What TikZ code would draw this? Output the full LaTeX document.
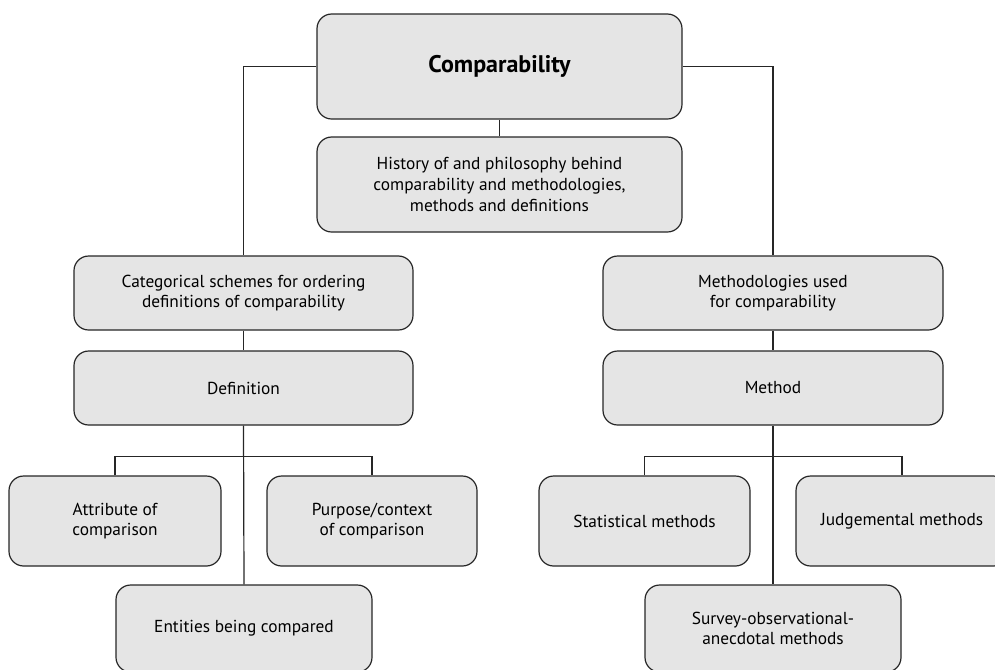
\documentclass[tikz,border=0pt]{standalone}
\usepackage{fontspec}
\setmainfont{PT Sans}
\usetikzlibrary{calc}

\begin{document}
\begin{tikzpicture}[x=0.75pt,y=-0.75pt,
	box/.style={draw=black!85,fill=black!10,line width=0.9pt,rounded corners=11pt,
		align=center,inner sep=0pt,font=\fontsize{13}{15.5}\selectfont},
	link/.style={draw=black!85,line width=0.9pt}]
			\useasboundingbox (0,0) rectangle (995,669);
			\coordinate (T) at (499.5,66.5);
			\coordinate (H) at (499.5,184.5);
			\coordinate (C) at (243.5,293);
			\coordinate (M) at (773,293);
			\coordinate (D) at (243.5,388);
			\coordinate (N) at (773,388);
			\coordinate (A) at (115,521);
			\coordinate (P) at (372,521);
			\coordinate (E) at (244,628.5);
			\coordinate (S) at (644.5,521);
			\coordinate (J) at (902,521);
			\coordinate (V) at (773,628.5);
			\node (top) at (T) [box,minimum width=273.75pt,minimum height=78.75pt,
				font=\fontsize{18}{21}\selectfont\bfseries]{Comparability};
			\node (hist) at (H) [box,minimum width=273.75pt,minimum height=71.25pt]
				{History of and philosophy behind\\comparability and methodologies,\\methods and definitions};
			\node (cat) at (C) [box,minimum width=254.25pt,minimum height=55.5pt]
				{Categorical schemes for ordering\\definitions of comparability};
			\node (meth) at (M) [box,minimum width=255pt,minimum height=55.5pt]
				{Methodologies used\\for comparability};
			\node (def) at (D) [box,minimum width=254.25pt,minimum height=55.5pt]{Definition};
			\node (method) at (N) [box,minimum width=255pt,minimum height=55.5pt]{Method};
			\node (attr) at (A) [box,minimum width=159pt,minimum height=67.5pt]
				{Attribute of\\comparison};
			\node (purp) at (P) [box,minimum width=157.5pt,minimum height=67.5pt]
				{Purpose/context\\of comparison};
			\node (ent) at (E) [box,minimum width=192pt,minimum height=65.25pt]
				{Entities being compared};
			\node (stat) at (S) [box,minimum width=158.25pt,minimum height=67.5pt]
				{Statistical methods};
			\node (judg) at (J) [box,minimum width=159pt,minimum height=67.5pt]
				{Judgemental methods};
			\node (surv) at (V) [box,minimum width=192pt,minimum height=65.25pt]
				{Survey-observational-\\anecdotal methods};
			\draw[link] (top.west) -| (cat.north);
			\draw[link] (top.east) -| (meth.north);
			\draw[link] (top.south) -- (hist.north);
			\draw[link] (cat.south) -- (def.north);
			\draw[link] (meth.south) -- (method.north);
			\draw[link] (def.south) -- (ent.north);
			\draw[link] (method.south) -- (surv.north);
			\draw[link] (attr.north) -- ++(0,-19) -| (purp.north);
			\draw[link] (stat.north) -- ++(0,-19) -| (judg.north);
		\end{tikzpicture}
\end{document}
